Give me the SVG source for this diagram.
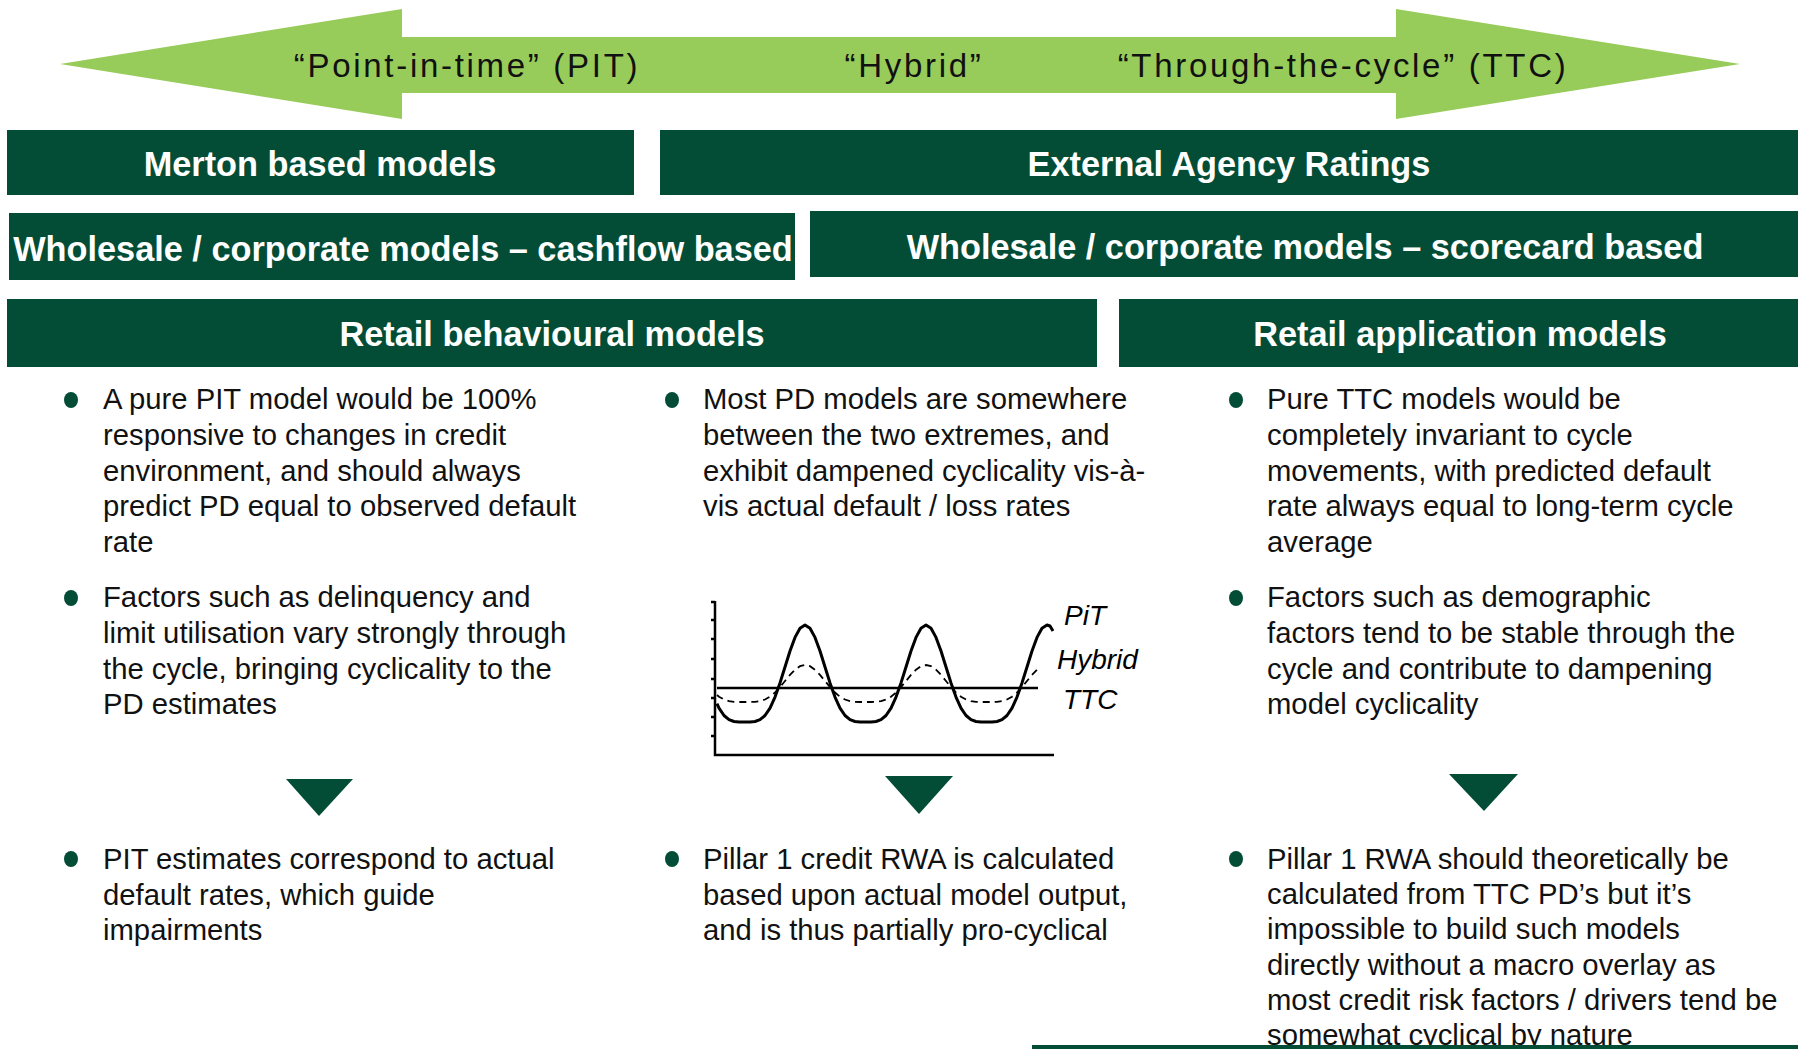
<svg xmlns="http://www.w3.org/2000/svg" width="1798" height="1049" viewBox="0 0 1798 1049">
<style>
.box{fill:#034D37}
.title{font-family:"Liberation Sans",Arial,sans-serif;font-weight:bold;font-size:34.3px;fill:#ffffff;text-anchor:middle}
.arrowtxt{font-family:"Liberation Sans",Arial,sans-serif;font-size:33px;fill:#111111;text-anchor:middle;letter-spacing:2.7px}
.body{font-family:"Liberation Sans",Arial,sans-serif;font-size:29.25px;fill:#111111}
.dot{fill:#034D37}
.tri{fill:#034D37}
.axis{stroke:#000;stroke-width:2.5;fill:none}
.pit{stroke:#000;stroke-width:3;fill:none;stroke-linejoin:round}
.hyb{stroke:#000;stroke-width:1.8;fill:none;stroke-dasharray:7 5}
.lbl{font-family:"Liberation Sans",Arial,sans-serif;font-style:italic;font-size:28px;fill:#000}
</style>
<rect width="1798" height="1049" fill="#ffffff"/>

<g id="spectrum-arrow">
<polygon points="60,64 402,9 402,37 1396,37 1396,9 1740,64 1396,119 1396,93 402,93 402,119" fill="#98CC5A"/>
<text class="arrowtxt" x="467" y="77">“Point-in-time” (PIT)</text>
<text class="arrowtxt" x="914" y="77">“Hybrid”</text>
<text class="arrowtxt" x="1343" y="77">“Through-the-cycle” (TTC)</text>
</g>

<g id="merton">
<rect class="box" x="7" y="130" width="627" height="65"/>
<text class="title" x="320" y="176">Merton based models</text>
</g>
<g id="external">
<rect class="box" x="660" y="130" width="1138" height="65"/>
<text class="title" x="1229" y="176">External Agency Ratings</text>
</g>
<g id="wholesale-cashflow">
<rect class="box" x="9" y="213" width="786" height="67"/>
<text class="title" x="403" y="260.5">Wholesale / corporate models – cashflow based</text>
</g>
<g id="wholesale-scorecard">
<rect class="box" x="810" y="211" width="988" height="66"/>
<text class="title" x="1305" y="259">Wholesale / corporate models – scorecard based</text>
</g>
<g id="retail-behavioural">
<rect class="box" x="7" y="299" width="1090" height="68"/>
<text class="title" x="552" y="346">Retail behavioural models</text>
</g>
<g id="retail-application">
<rect class="box" x="1119" y="299" width="679" height="68"/>
<text class="title" x="1460" y="346">Retail application models</text>
</g>

<g id="col1-top">
<ellipse class="dot" cx="71" cy="400" rx="7" ry="8"/>
<text class="body" x="103" y="409">A pure PIT model would be 100%</text>
<text class="body" x="103" y="444.8">responsive to changes in credit</text>
<text class="body" x="103" y="480.6">environment, and should always</text>
<text class="body" x="103" y="516.4">predict PD equal to observed default</text>
<text class="body" x="103" y="552.2">rate</text>
<ellipse class="dot" cx="71" cy="598" rx="7" ry="8"/>
<text class="body" x="103" y="607">Factors such as delinquency and</text>
<text class="body" x="103" y="642.8">limit utilisation vary strongly through</text>
<text class="body" x="103" y="678.6">the cycle, bringing cyclicality to the</text>
<text class="body" x="103" y="714.4">PD estimates</text>
</g>

<g id="col2-top">
<ellipse class="dot" cx="672" cy="400" rx="7" ry="8"/>
<text class="body" x="703" y="409">Most PD models are somewhere</text>
<text class="body" x="703" y="444.8">between the two extremes, and</text>
<text class="body" x="703" y="480.6">exhibit dampened cyclicality vis-à-</text>
<text class="body" x="703" y="516.4">vis actual default / loss rates</text>
</g>

<g id="col3-top">
<ellipse class="dot" cx="1236" cy="400" rx="7" ry="8"/>
<text class="body" x="1267" y="409">Pure TTC models would be</text>
<text class="body" x="1267" y="444.8">completely invariant to cycle</text>
<text class="body" x="1267" y="480.6">movements, with predicted default</text>
<text class="body" x="1267" y="516.4">rate always equal to long-term cycle</text>
<text class="body" x="1267" y="552.2">average</text>
<ellipse class="dot" cx="1236" cy="598" rx="7" ry="8"/>
<text class="body" x="1267" y="607">Factors such as demographic</text>
<text class="body" x="1267" y="642.8">factors tend to be stable through the</text>
<text class="body" x="1267" y="678.6">cycle and contribute to dampening</text>
<text class="body" x="1267" y="714.4">model cyclicality</text>
</g>

<g id="cycle-chart">
<path class="axis" d="M715,601 V755 H1054"/>
<path class="axis" stroke-width="1.5" d="M711,602 H715 M711,620 H715 M711,639 H715 M711,659 H715 M711,679 H715 M711,698 H715 M711,717 H715 M711,736 H715"/>
<line class="axis" x1="717" y1="688" x2="1038" y2="688"/>
<polyline class="pit" points="717,703.7 719,708.1 724,715.5 729,719.7 734,721.5 739,722 744.5,722 750,722 755,721.5 760,719.7 765,715.5 770,708.1 775,697.1 780,682.9 785,667 790,651 795,637.4 800,628.2 805,625 810,628.2 815,637.4 820,651 825,667 830,682.9 835,697.1 840,708.1 845,715.5 850,719.7 855,721.5 860,722 865.5,722 871,722 876,721.5 881,719.7 886,715.5 891,708.1 896,697.1 901,682.9 906,667 911,651 916,637.4 921,628.2 926,625 931,628.2 936,637.4 941,651 946,667 951,682.9 956,697.1 961,708.1 966,715.5 971,719.7 976,721.5 981,722 986.5,722 992,722 997,721.5 1002,719.7 1007,715.5 1012,708.1 1017,697.1 1022,682.9 1027,667 1032,651 1037,637.4 1042,628.2 1047,625 1050,626 1053,631"/>
<polyline class="hyb" points="717,695 719,696.7 724,699.5 729,701.1 734,701.8 739,702 744.5,702 750,702 755,701.8 760,701.1 765,699.5 770,696.7 775,692.5 780,687.1 785,681 790,674.9 795,669.7 800,666.2 805,665 810,666.2 815,669.7 820,674.9 825,681 830,687.1 835,692.5 840,696.7 845,699.5 850,701.1 855,701.8 860,702 865.5,702 871,702 876,701.8 881,701.1 886,699.5 891,696.7 896,692.5 901,687.1 906,681 911,674.9 916,669.7 921,666.2 926,665 931,666.2 936,669.7 941,674.9 946,681 951,687.1 956,692.5 961,696.7 966,699.5 971,701.1 976,701.8 981,702 986.5,702 992,702 997,701.8 1002,701.1 1007,699.5 1012,696.7 1017,692.5 1022,687.1 1027,681 1032,674.9 1037,669.7"/>
<text class="lbl" x="1064" y="625">PiT</text>
<text class="lbl" x="1057" y="669">Hybrid</text>
<text class="lbl" x="1063" y="709">TTC</text>
</g>

<g id="connectors">
<polygon class="tri" points="286,779 353,779 319,816"/>
<polygon class="tri" points="885,776 953,776 919,814"/>
<polygon class="tri" points="1449,774 1518,774 1484,811"/>
</g>

<g id="col1-bottom">
<ellipse class="dot" cx="71" cy="859" rx="7" ry="8"/>
<text class="body" x="103" y="869">PIT estimates correspond to actual</text>
<text class="body" x="103" y="904.5">default rates, which guide</text>
<text class="body" x="103" y="940">impairments</text>
</g>
<g id="col2-bottom">
<ellipse class="dot" cx="672" cy="859" rx="7" ry="8"/>
<text class="body" x="703" y="869">Pillar 1 credit RWA is calculated</text>
<text class="body" x="703" y="904.5">based upon actual model output,</text>
<text class="body" x="703" y="940">and is thus partially pro-cyclical</text>
</g>
<g id="col3-bottom">
<ellipse class="dot" cx="1236" cy="859" rx="7" ry="8"/>
<text class="body" x="1267" y="869">Pillar 1 RWA should theoretically be</text>
<text class="body" x="1267" y="904.2">calculated from TTC PD’s but it’s</text>
<text class="body" x="1267" y="939.4">impossible to build such models</text>
<text class="body" x="1267" y="974.6">directly without a macro overlay as</text>
<text class="body" x="1267" y="1009.8">most credit risk factors / drivers tend be</text>
<text class="body" x="1267" y="1045">somewhat cyclical by nature</text>
</g>

<g id="bottom-bar">
<rect class="box" x="1032" y="1045" width="766" height="4"/>
</g>
</svg>
